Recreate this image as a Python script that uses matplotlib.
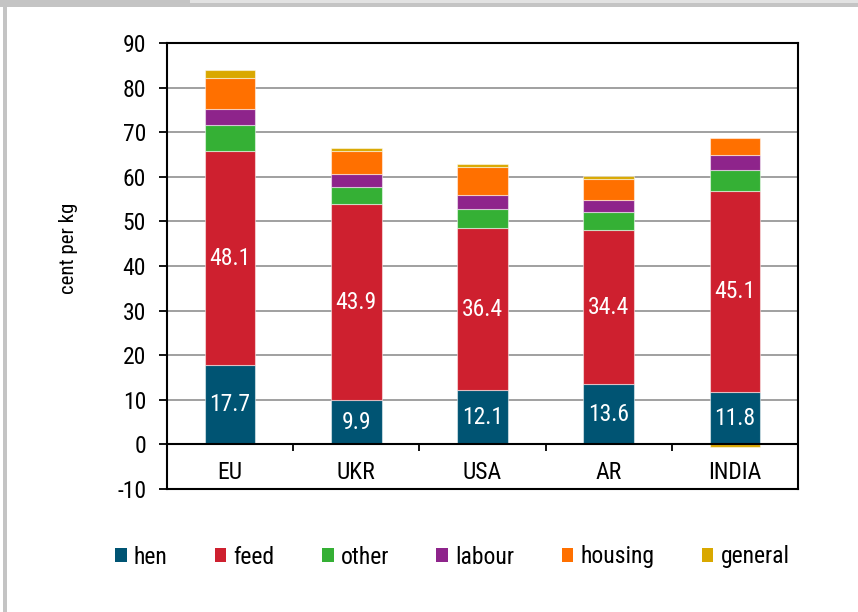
import numpy as np
import matplotlib.pyplot as plt
from matplotlib.patches import Rectangle, Patch

# 数据（从图上读取，单位 cent per kg）
countries = ['EU', 'UKR', 'USA', 'AR', 'INDIA']
hen = [17.7, 9.9, 12.1, 13.6, 11.8]
feed = [48.1, 43.9, 36.4, 34.4, 45.1]
other = [5.8, 3.9, 4.3, 4.0, 4.7]
labour = [3.6, 3.0, 3.2, 2.8, 3.3]
housing = [7.0, 5.0, 6.1, 4.8, 3.8]
general = [1.7, 0.7, 0.8, 0.6, -0.6]

series_names = ['hen', 'feed', 'other', 'labour', 'housing', 'general']
series = [hen, feed, other, labour, housing, general]
colors = ['#005473', '#CE202F', '#35B035', '#8E248B', '#FF7000', '#D9A800']
labelled = ['hen', 'feed']

plt.rcParams['font.family'] = ['Roboto Condensed', 'DejaVu Sans']
plt.rcParams['axes.unicode_minus'] = False

fig = plt.figure(figsize=(8.58, 6.12), dpi=100)
ax = fig.add_axes([167 / 858, 1 - 489 / 612, 631 / 858, 446 / 612])

x = np.arange(len(countries))
pos_base = np.zeros(len(countries))
neg_base = np.zeros(len(countries))
for name, vals, c in zip(series_names, series, colors):
    vals = np.array(vals)
    bottom = np.where(vals >= 0, pos_base, neg_base)
    bars = ax.bar(x, vals, width=0.4, bottom=bottom, color=c,
                  edgecolor=(1, 1, 1, 0.5), linewidth=0.8, zorder=3)
    if name in labelled:
        ax.bar_label(bars, labels=[f'{v:.1f}' for v in vals], label_type='center',
                     color='white', fontsize=17)
    pos_base += np.where(vals >= 0, vals, 0)
    neg_base += np.where(vals < 0, vals, 0)

ax.set_xlim(-0.5, len(countries) - 0.5)
ax.set_ylim(-10, 90)
ax.set_yticks(np.arange(-10, 91, 10))
ax.tick_params(axis='y', labelsize=17, length=6, width=1.3, pad=9)
ax.set_xticks([])

for yv in range(10, 90, 10):
    ax.axhline(yv, color='#999999', linewidth=1.3, zorder=1)
ax.axhline(0, color='black', linewidth=1.5, zorder=4)
ax.vlines(x[:-1] + 0.5, -1.4, 0, color='black', linewidth=1.3, zorder=4)

for i, name in enumerate(countries):
    ax.text(i, -6.3, name, ha='center', va='center', fontsize=17)

for s in ax.spines.values():
    s.set_linewidth(1.5)

fig.text(69 / 858, 1 - 248 / 612, 'cent per kg', rotation=90,
         ha='center', va='center', fontsize=15)

handles = [Patch(facecolor=c) for c in colors]
fig.legend(handles, series_names, loc='center', bbox_to_anchor=(0.527, 1 - 557 / 612),
           ncol=6, frameon=False, fontsize=17, handlelength=0.5, handleheight=0.5,
           handletextpad=0.3, columnspacing=2.0)

# 外框（灰色边）
fig.patches.append(Rectangle((3 / 858, 0), 4 / 858, 1 - 3 / 612, transform=fig.transFigure,
                             facecolor='#c4c4c4', edgecolor='none'))
fig.patches.append(Rectangle((0, 1 - 7 / 612), 1, 4 / 612, transform=fig.transFigure,
                             facecolor='#c4c4c4', edgecolor='none'))
fig.patches.append(Rectangle((190 / 858, 1 - 3 / 612), 1, 3 / 612, transform=fig.transFigure,
                             facecolor='#e2e2e2', edgecolor='none'))
fig.patches.append(Rectangle((0, 1 - 3 / 612), 190 / 858, 3 / 612, transform=fig.transFigure,
                             facecolor='#c4c4c4', edgecolor='none'))

fig.savefig('out.png', dpi=100)
